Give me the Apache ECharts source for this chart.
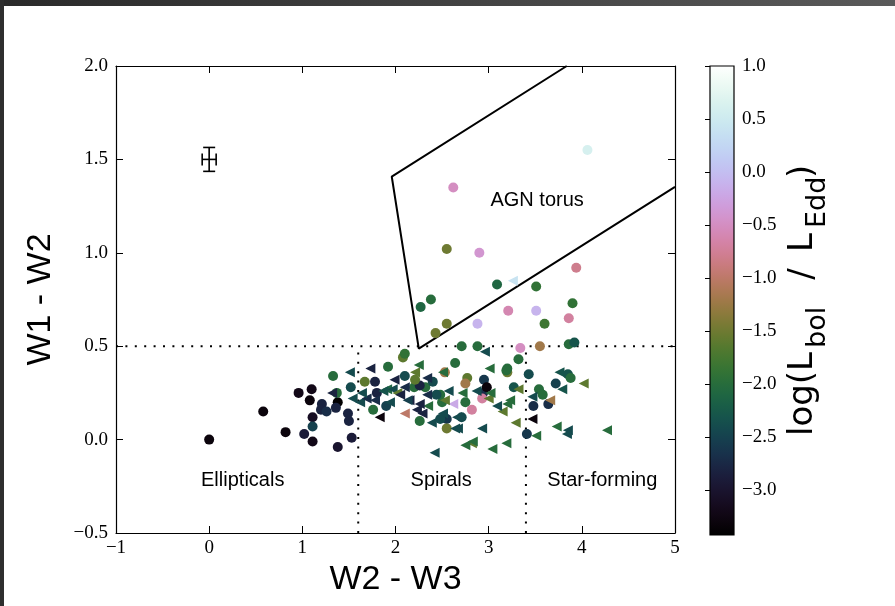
<!DOCTYPE html>
<html>
<head>
<meta charset="utf-8">
<script src="https://cdn.jsdelivr.net/npm/echarts@6/dist/echarts.min.js"></script>
<style>
html, body { margin: 0; padding: 0; background: #fff; }
#chart { width: 895px; height: 606px; }
#topbar { position: absolute; left: 0; top: 0; width: 895px; height: 6px; background: linear-gradient(to right, #2a2a2a, #5a5a5a); }
#leftbar { position: absolute; left: 0; top: 0; width: 4px; height: 606px; background: #2e2e2e; }
</style>
</head>
<body>
<div id="chart"></div>
<div id="topbar"></div>
<div id="leftbar"></div>
<script>
// W2-W3 / W1-W2 colour-colour diagram, colour = log(Lbol/LEdd)

// circles
var circleX = [0.00,0.58,0.82,0.96,1.02,1.10,1.08,1.21,1.20,1.26,1.11,1.11,1.11,1.38,1.53,1.49,1.50,1.38,1.33,1.37,
  1.52,1.67,1.78,1.80,1.76,1.92,2.08,2.10,2.10,2.20,2.32,2.40,2.53,2.64,2.77,2.75,2.95,2.94,2.48,2.50,
  2.75,2.93,2.82,2.55,2.55,2.26,2.71,2.88,3.34,3.55,3.86,3.92,3.20,3.20,3.32,3.43,3.27,3.54,3.58,3.72,
  3.85,3.88,3.48,3.64,3.41,4.06,2.62,2.55,2.90,3.94,3.09,3.51,2.27,2.38,3.90,3.21,3.51,3.86,3.60,2.55,
  2.88,2.43,1.36,1.90,2.26,2.44,2.48,2.98,2.71,3.19,2.21];
var circleY = [0.00,0.15,0.04,0.25,0.03,0.27,0.21,0.19,0.16,0.15,0.12,0.07,-0.01,-0.04,0.01,0.14,0.10,0.20,0.34,0.25,
  0.28,0.31,0.31,0.25,0.16,0.39,0.44,0.46,0.34,0.28,0.28,0.31,0.36,0.41,0.33,0.30,0.32,0.25,0.24,0.20,
  0.20,0.22,0.16,0.11,0.06,0.10,0.50,0.50,0.49,0.50,0.51,0.52,0.36,0.38,0.43,0.35,0.28,0.27,0.24,0.30,
  0.35,0.33,0.18,0.19,0.03,1.55,1.35,1.02,1.00,0.92,0.83,0.82,0.71,0.75,0.73,0.69,0.69,0.65,0.62,0.62,
  0.62,0.57,0.17,0.18,0.29,0.24,0.11,0.28,0.12,0.37,0.32];
var circleLog = [-3.3,-3.3,-3.3,-3.2,-2.9,-3.2,-3.3,-2.8,-2.8,-2.7,-3.1,-2.5,-3.2,-3.0,-2.9,-2.8,-2.8,-3.4,-2.0,-2.0,
  -2.4,-1.6,-2.8,-2.8,-2.0,-2.0,-1.6,-1.9,-2.4,-2.0,-2.0,-2.4,-1.2,-2.0,-1.6,-1.2,-2.6,-2.7,-2.0,-2.0,
  -2.0,-0.7,-0.7,-2.6,-1.5,-2.0,-2.0,-2.0,-0.5,-1.2,-2.0,-2.3,-1.5,-2.0,-2.0,-2.4,-2.3,-2.0,-2.0,-2.5,
  -2.3,-2.0,-2.7,-2.7,-2.6,0.6,-0.5,-1.5,-0.4,-0.8,-2.1,-1.9,-2.1,-2.0,-1.9,-0.6,-0.1,-0.7,-1.8,-1.5,
  -0.1,-1.5,-2.8,-2.5,-2.8,-2.4,-2.4,-3.3,-2.4,-2.0,-1.6];

// triangles
var triX = [1.51,1.73,1.32,1.54,1.62,1.69,1.83,1.91,1.97,2.02,2.10,2.15,2.10,2.23,2.29,2.34,2.35,2.51,2.66,2.39,
  2.64,2.72,2.87,2.96,2.93,2.82,2.75,2.42,2.62,2.21,1.87,2.13,3.04,3.76,3.79,4.02,3.32,3.47,3.66,3.23,
  3.20,3.15,3.29,3.47,3.73,3.85,3.84,3.51,3.19,4.27,2.25,2.34,2.51,3.01,2.57,2.53,3.09,3.00,3.02,2.67,
  2.83,2.26,1.99,2.05,1.94,1.78,1.64,3.26];
var triY = [0.36,0.38,0.25,0.22,0.20,0.22,0.12,0.27,0.27,0.25,0.28,0.21,0.14,0.16,0.14,0.24,0.18,0.14,0.12,0.09,
  0.06,0.25,0.26,0.47,0.06,-0.02,-0.03,-0.07,0.19,0.36,0.26,0.21,-0.05,0.36,0.27,0.30,0.27,0.23,0.21,0.21,
  0.19,0.15,0.09,0.11,0.07,0.05,0.03,0.02,-0.02,0.05,0.40,0.33,0.36,0.38,0.26,0.21,0.18,0.22,0.25,0.06,
  -0.01,0.19,0.32,0.24,0.20,0.21,0.25,0.85];
var triLog = [-2.4,-2.8,-2.8,-2.4,-2.4,-2.7,-3.3,-2.1,-2.4,-1.6,-2.7,-2.8,-1.0,-2.8,-2.8,-2.7,-2.0,-2.4,-2.4,-2.4,
  -2.4,-2.0,-2.4,-2.4,-2.4,-1.6,-2.0,-2.4,-0.2,-1.6,-2.3,-2.5,-2.0,-2.3,-2.3,-1.6,-1.6,-2.4,-1.2,-2.0,
  -2.0,-1.6,-1.6,-3.3,-2.0,-2.4,-2.4,-2.0,-2.0,-2.0,-2.0,-2.7,-2.0,-2.0,-2.4,-1.6,-2.4,-1.6,-2.0,-2.4,
  -2.0,-2.8,-2.8,-2.8,-2.4,-2.7,-2.4,0.4];

// typical error bar
var errX = [0], errY = [1.5], errXw = [0.075], errYw = [0.064];

// AGN wedge outline (Mateos et al.)
var wedgeX = [3.838, 1.9596, 2.250, 5.0];
var wedgeY = [2.0, 1.4083, 0.4868, 1.353];

// dotted divisions
var hLineX = [-1, 5], hLineY = [0.5, 0.5];
var vLine1X = [1.6, 1.6], vLine2X = [3.4, 3.4], vLineY = [-0.5, 0.5];

var regionNames = ['Ellipticals', 'Spirals', 'Star-forming', 'AGN torus'];
var regionX = [0.36, 2.49, 4.22, 3.52];
var regionY = [-0.22, -0.22, -0.22, 1.28];

var cbMin = -3.42, cbMax = 1.0;
var cbTicks = [-3.0, -2.5, -2.0, -1.5, -1.0, -0.5, 0.0, 0.5, 1.0];

// matplotlib cubehelix colormap
function cubehelix(t) {
  var a = t * (1 - t) / 2;
  var phi = 2 * Math.PI * (0.5 / 3 - 1.5 * t);
  var c = Math.cos(phi), s = Math.sin(phi);
  var r = t + a * (-0.14861 * c + 1.78277 * s);
  var g = t + a * (-0.29227 * c - 0.90649 * s);
  var b = t + a * (1.97294 * c);
  function cl(v) { return Math.round(Math.max(0, Math.min(1, v)) * 255); }
  return 'rgb(' + cl(r) + ',' + cl(g) + ',' + cl(b) + ')';
}
var cmapColors = [], cmapStops = [];
for (var i = 0; i <= 40; i++) {
  cmapColors.push(cubehelix(i / 40));
  cmapStops.push({ offset: i / 40, color: cubehelix(i / 40) });
}

function zip3(a, b, c) {
  var out = [];
  for (var i = 0; i < a.length; i++) out.push([a[i], b[i], c[i]]);
  return out;
}
function zip2(a, b) {
  var out = [];
  for (var i = 0; i < a.length; i++) out.push([a[i], b[i]]);
  return out;
}
function fmt(v, d) { return v.toFixed(d).replace('-', '\u2212'); }

var serif = '"Liberation Serif", "Times New Roman", serif';
var sans = '"Liberation Sans", Arial, sans-serif';

var tickLabel = { color: '#000', fontFamily: serif, fontSize: 19 };

var chart = echarts.init(document.getElementById('chart'));

chart.setOption({
  animation: false,
  backgroundColor: '#fff',
  grid: [
    { left: 116, top: 66, width: 559, height: 467 },
    { left: 710, top: 66, width: 24, height: 469 }
  ],
  xAxis: [
    {
      gridIndex: 0, type: 'value', min: -1, max: 5, interval: 1, position: 'bottom',
      axisLine: { onZero: false, lineStyle: { color: '#000', width: 1.2 } },
      axisTick: { inside: true, length: 7, lineStyle: { color: '#000' } },
      axisLabel: Object.assign({ margin: 6, formatter: function (v) { return fmt(v, 0); } }, tickLabel),
      splitLine: { show: false },
      name: 'W2 - W3', nameLocation: 'middle', nameGap: 28,
      nameTextStyle: { color: '#000', fontFamily: sans, fontSize: 34 }
    },
    {
      gridIndex: 0, type: 'value', min: -1, max: 5, interval: 1, position: 'top',
      axisLine: { onZero: false, lineStyle: { color: '#000', width: 1.2 } },
      axisTick: { inside: true, length: 7, lineStyle: { color: '#000' } },
      axisLabel: { show: false }, splitLine: { show: false }
    },
    { gridIndex: 1, type: 'value', min: 0, max: 1, show: false }
  ],
  yAxis: [
    {
      gridIndex: 0, type: 'value', min: -0.5, max: 2.0, interval: 0.5, position: 'left',
      axisLine: { onZero: false, lineStyle: { color: '#000', width: 1.2 } },
      axisTick: { inside: true, length: 7, lineStyle: { color: '#000' } },
      axisLabel: Object.assign({ margin: 8, formatter: function (v) { return fmt(v, 1); } }, tickLabel),
      splitLine: { show: false },
      name: 'W1 - W2', nameLocation: 'middle', nameGap: 58,
      nameTextStyle: { color: '#000', fontFamily: sans, fontSize: 34 }
    },
    {
      gridIndex: 0, type: 'value', min: -0.5, max: 2.0, interval: 0.5, position: 'right',
      axisLine: { onZero: false, lineStyle: { color: '#000', width: 1.2 } },
      axisTick: { inside: true, length: 7, lineStyle: { color: '#000' } },
      axisLabel: { show: false }, splitLine: { show: false }
    },
    {
      gridIndex: 1, type: 'value', min: cbMin, max: cbMax, position: 'right',
      axisLine: { show: false },
      axisTick: { show: true, inside: true, length: 5, customValues: cbTicks, lineStyle: { color: '#000' } },
      axisLabel: Object.assign({ margin: 8, customValues: cbTicks, formatter: function (v) { return fmt(v, 1); } }, tickLabel),
      splitLine: { show: false }
    }
  ],
  visualMap: {
    type: 'continuous', show: false, min: cbMin, max: cbMax, dimension: 2,
    seriesIndex: [4, 5], inRange: { color: cmapColors }
  },
  graphic: [
    { type: 'text', x: 803, y: 436, rotation: Math.PI / 2,
      style: { text: 'log(L', font: '34px "DejaVu Sans"', fill: '#000', align: 'left', verticalAlign: 'middle' } },
    { type: 'text', x: 818, y: 348, rotation: Math.PI / 2,
      style: { text: 'bol', font: '27px "DejaVu Sans"', fill: '#000', align: 'left', verticalAlign: 'middle' } },
    { type: 'text', x: 803, y: 274, rotation: Math.PI / 2,
      style: { text: '/', font: '34px "DejaVu Sans"', fill: '#000', align: 'center', verticalAlign: 'middle' } },
    { type: 'text', x: 803, y: 252, rotation: Math.PI / 2,
      style: { text: 'L', font: '34px "DejaVu Sans"', fill: '#000', align: 'left', verticalAlign: 'middle' } },
    { type: 'text', x: 818, y: 228, rotation: Math.PI / 2,
      style: { text: 'Edd', font: '27px "DejaVu Sans"', fill: '#000', align: 'left', verticalAlign: 'middle' } },
    { type: 'text', x: 803, y: 178, rotation: Math.PI / 2,
      style: { text: ')', font: '34px "DejaVu Sans"', fill: '#000', align: 'left', verticalAlign: 'middle' } }
  ],
  series: [
    {
      type: 'line', xAxisIndex: 0, yAxisIndex: 0, data: zip2(wedgeX, wedgeY),
      symbol: 'none', clip: true, lineStyle: { color: '#000', width: 2 }, z: 2
    },
    {
      type: 'line', xAxisIndex: 0, yAxisIndex: 0, data: zip2(hLineX, hLineY),
      symbol: 'none', lineStyle: { color: '#000', width: 2, type: [2, 7.4] }, z: 2
    },
    {
      type: 'line', xAxisIndex: 0, yAxisIndex: 0, data: zip2(vLine1X, vLineY),
      symbol: 'none', lineStyle: { color: '#000', width: 2, type: [2, 7.4] }, z: 2
    },
    {
      type: 'line', xAxisIndex: 0, yAxisIndex: 0, data: zip2(vLine2X, vLineY),
      symbol: 'none', lineStyle: { color: '#000', width: 2, type: [2, 7.4] }, z: 2
    },
    {
      name: 'circles', type: 'scatter', xAxisIndex: 0, yAxisIndex: 0,
      data: zip3(circleX, circleY, circleLog), symbol: 'circle', symbolSize: 10, z: 3,
      itemStyle: { opacity: 1 }
    },
    {
      name: 'triangles', type: 'scatter', xAxisIndex: 0, yAxisIndex: 0,
      data: zip3(triX, triY, triLog), symbol: 'triangle', symbolSize: 10, symbolRotate: 90, z: 3,
      itemStyle: { opacity: 1 }
    },
    {
      type: 'custom', xAxisIndex: 0, yAxisIndex: 0, z: 4,
      data: errX.map(function (x, i) { return [x, errY[i], errXw[i], errYw[i]]; }),
      renderItem: function (params, api) {
        var x = api.value(0), y = api.value(1), ex = api.value(2), ey = api.value(3);
        var l = api.coord([x - ex, y]), r = api.coord([x + ex, y]);
        var t = api.coord([x, y + ey]), b = api.coord([x, y - ey]);
        var cap = 6;
        var st = { stroke: '#000', lineWidth: 1.6 };
        return {
          type: 'group',
          children: [
            { type: 'line', shape: { x1: l[0], y1: l[1], x2: r[0], y2: r[1] }, style: st },
            { type: 'line', shape: { x1: t[0], y1: t[1], x2: b[0], y2: b[1] }, style: st },
            { type: 'line', shape: { x1: l[0], y1: l[1] - cap, x2: l[0], y2: l[1] + cap }, style: st },
            { type: 'line', shape: { x1: r[0], y1: r[1] - cap, x2: r[0], y2: r[1] + cap }, style: st },
            { type: 'line', shape: { x1: t[0] - cap, y1: t[1], x2: t[0] + cap, y2: t[1] }, style: st },
            { type: 'line', shape: { x1: b[0] - cap, y1: b[1], x2: b[0] + cap, y2: b[1] }, style: st }
          ]
        };
      }
    },
    {
      type: 'scatter', xAxisIndex: 0, yAxisIndex: 0, z: 5, symbolSize: 0, silent: true,
      itemStyle: { opacity: 1 },
      data: regionNames.map(function (n, i) { return { name: n, value: [regionX[i], regionY[i]] }; }),
      label: {
        show: true, position: 'inside', formatter: '{b}',
        color: '#000', fontFamily: sans, fontSize: 20
      }
    },
    {
      type: 'custom', xAxisIndex: 2, yAxisIndex: 2, z: 2,
      data: [[0, cbMin, 1, cbMax]],
      renderItem: function (params, api) {
        var p0 = api.coord([api.value(0), api.value(3)]);
        var p1 = api.coord([api.value(2), api.value(1)]);
        return {
          type: 'rect',
          shape: { x: p0[0], y: p0[1], width: p1[0] - p0[0], height: p1[1] - p0[1] },
          style: {
            fill: new echarts.graphic.LinearGradient(0, 1, 0, 0, cmapStops),
            stroke: '#000', lineWidth: 1.2
          }
        };
      }
    }
  ]
});
</script>
</body>
</html>
